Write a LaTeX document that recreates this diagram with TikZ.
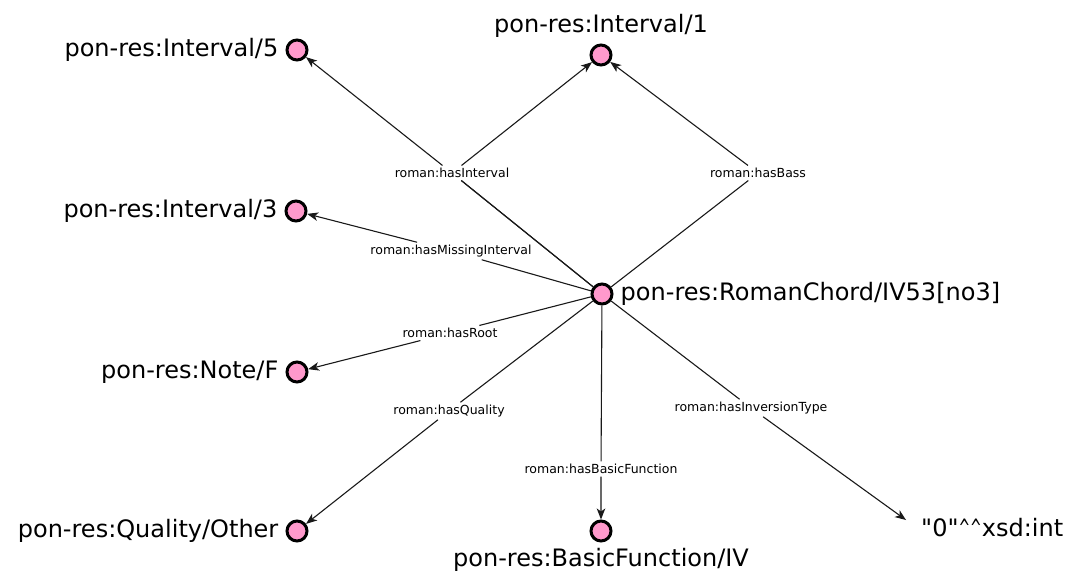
\documentclass[tikz,border=0pt]{standalone}
\usepackage{fontspec}
\usetikzlibrary{arrows.meta,positioning}
\newfontfamily\rdffont{DejaVu Sans}
\definecolor{resPink}{HTML}{FF99CC}
\tikzset{v/.style={circle, draw, line width=3pt, fill=resPink, inner sep=0pt,
  minimum size=20pt}}
\tikzset{t/.style={font=\rdffont\fontsize{24}{28}\selectfont, inner sep=0pt}}
\tikzset{lbl/.style={font=\rdffont\fontsize{12.5}{15}\selectfont, inner sep=2.5pt}}
\tikzset{e/.style={draw, line width=1.1pt, black!90,
  -{Stealth[length=11pt,width=8.5pt,inset=3pt]}}}
\newcommand{\caret}{\scalebox{0.58}[1]{\textasciicircum}}

\begin{document}
\begin{tikzpicture}[x=1pt,y=-1pt]
        \useasboundingbox (0,0) rectangle (1070,579);
        %% resources
        \node (c) at (602,294) [v] {};
        \node (i5) at (297,50) [v] {};
        \node (i1) at (601,55) [v] {};
        \node (i3) at (296,211) [v] {};
        \node (nf) at (297,372) [v] {};
        \node (qo) at (297,531) [v] {};
        \node (bf) at (601,531) [v] {};
        \coordinate (lit) at (906,520);
        %% names
        \node (nc) [t, right=7pt of c] {pon-res:RomanChord/IV53[no3]};
        \node (ni5) [t, left=7pt of i5] {pon-res:Interval/5};
        \node (ni1) [t, above=6pt of i1] {pon-res:Interval/1};
        \node (ni3) [t, left=7pt of i3] {pon-res:Interval/3};
        \node (nnf) [t, left=7pt of nf] {pon-res:Note/F};
        \node (nqo) [t, left=7pt of qo] {pon-res:Quality/Other};
        \node (nbf) [t, below=6pt of bf] {pon-res:BasicFunction/IV};
        \node (int) [t, right=15pt of lit, yshift=-8pt]
            {"0"\caret\caret xsd:int};
        %% properties
        \node (lint) at (452,173) [lbl] {roman:hasInterval};
        \node (lbass) at (758,173) [lbl] {roman:hasBass};
        \node (lmiss) at (451,251) [lbl] {roman:hasMissingInterval};
        \node (lroot) at (450,333) [lbl] {roman:hasRoot};
        \node (lqual) at (449,411) [lbl] {roman:hasQuality};
        \node (lfunc) at (601,469) [lbl] {roman:hasBasicFunction};
        \node (linv) at (751,408) [lbl] {roman:hasInversionType};
        \draw [e] (c) -- (lint) -- (i5);
        \draw [e] (c) -- (lint) -- (i1);
        \draw [e] (c) -- (lbass) -- (i1);
        \draw [e] (c) -- (lmiss) -- (i3);
        \draw [e] (c) -- (lroot) -- (nf);
        \draw [e] (c) -- (lqual) -- (qo);
        \draw [e] (c) -- (lfunc) -- (bf);
        \draw [e] (c) -- (linv) -- (lit);
\end{tikzpicture}
\end{document}
